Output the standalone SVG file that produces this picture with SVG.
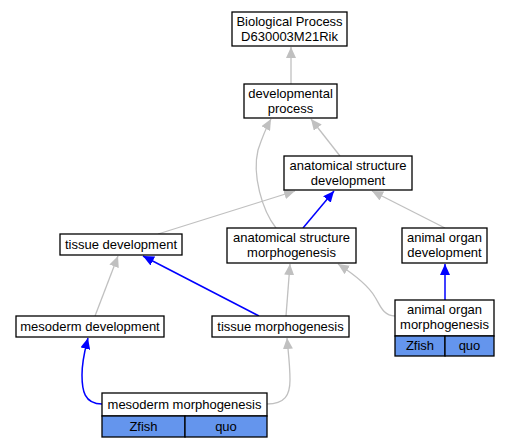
<svg xmlns="http://www.w3.org/2000/svg" width="509" height="448" viewBox="0 0 509 448">
<style>
.box{fill:#fff;stroke:#000;stroke-width:1.3}
.cell{fill:#6495ed;stroke:#000;stroke-width:1.3}
text{font-family:"Liberation Sans",Arial,sans-serif;font-size:13px;text-anchor:middle;fill:#000}
.g{fill:none;stroke:#c0c0c0;stroke-width:1.3}
.b{fill:none;stroke:#0000ff;stroke-width:1.5}
</style>
<defs>
<marker id="ag" markerUnits="userSpaceOnUse" markerWidth="11" markerHeight="10" refX="11" refY="5" orient="auto"><path d="M0,0 L11,5 L0,10 z" fill="#c0c0c0"/></marker>
<marker id="ab" markerUnits="userSpaceOnUse" markerWidth="11" markerHeight="10" refX="11" refY="5" orient="auto"><path d="M0,0 L11,5 L0,10 z" fill="#0000ff"/></marker>
</defs>
<g id="edges">
<path class="g" marker-end="url(#ag)" d="M291,84 L291,47"/>
<path class="g" marker-end="url(#ag)" d="M340,156 L311,119"/>
<path class="g" marker-end="url(#ag)" d="M276,228 C262,210 252,175 258,150 C262,138 266,128 271,119"/>
<path class="g" marker-end="url(#ag)" d="M158,234 L295,191"/>
<path class="b" marker-end="url(#ab)" d="M303,228 L334,191"/>
<path class="g" marker-end="url(#ag)" d="M445,228 L372,191"/>
<path class="b" marker-end="url(#ab)" d="M445,300 L445,264"/>
<path class="g" marker-end="url(#ag)" d="M395,316 C383,316 380,305 375,297 C368,285 355,275 338,264"/>
<path class="g" marker-end="url(#ag)" d="M286,316 L290,264"/>
<path class="b" marker-end="url(#ab)" d="M259,316 L143,256"/>
<path class="g" marker-end="url(#ag)" d="M95,316 L118,256"/>
<path class="b" marker-end="url(#ab)" d="M102,404 C84,404 82,390 82,375 C82,360 85,350 88,338"/>
<path class="g" marker-end="url(#ag)" d="M267,404 C285,404 290,395 290,380 C290,365 288,350 287,338"/>
</g>
<g id="biological_process">
<rect class="box" x="232" y="12" width="115" height="34"/>
<text x="289.5" y="26">Biological Process</text>
<text x="289.5" y="41">D630003M21Rik</text>
</g>
<g id="developmental_process">
<rect class="box" x="244" y="84" width="93" height="34"/>
<text x="290.5" y="98">developmental</text>
<text x="290.5" y="113">process</text>
</g>
<g id="anatomical_structure_development">
<rect class="box" x="284" y="156" width="128" height="34"/>
<text x="348" y="170">anatomical structure</text>
<text x="348" y="185">development</text>
</g>
<g id="tissue_development">
<rect class="box" x="60" y="234" width="122" height="21"/>
<text x="121" y="249">tissue development</text>
</g>
<g id="anatomical_structure_morphogenesis">
<rect class="box" x="227" y="228" width="129" height="35"/>
<text x="291.5" y="242">anatomical structure</text>
<text x="291.5" y="257">morphogenesis</text>
</g>
<g id="animal_organ_development">
<rect class="box" x="402" y="228" width="85" height="35"/>
<text x="444.5" y="242">animal organ</text>
<text x="444.5" y="257">development</text>
</g>
<g id="mesoderm_development">
<rect class="box" x="16" y="316" width="148" height="21"/>
<text x="90" y="331">mesoderm development</text>
</g>
<g id="tissue_morphogenesis">
<rect class="box" x="212" y="316" width="137" height="21"/>
<text x="280.5" y="331">tissue morphogenesis</text>
</g>
<g id="animal_organ_morphogenesis">
<rect class="box" x="395" y="300" width="99" height="36"/>
<rect class="cell" x="395" y="336" width="50" height="20"/>
<rect class="cell" x="445" y="336" width="49" height="20"/>
<text x="444.5" y="314">animal organ</text>
<text x="444.5" y="329">morphogenesis</text>
<text x="420" y="350">Zfish</text>
<text x="469.5" y="350">quo</text>
</g>
<g id="mesoderm_morphogenesis">
<rect class="box" x="102" y="393" width="165" height="23"/>
<rect class="cell" x="102" y="416" width="83" height="21"/>
<rect class="cell" x="185" y="416" width="82" height="21"/>
<text x="184.5" y="409">mesoderm morphogenesis</text>
<text x="143.5" y="431">Zfish</text>
<text x="226" y="431">quo</text>
</g>
</svg>
